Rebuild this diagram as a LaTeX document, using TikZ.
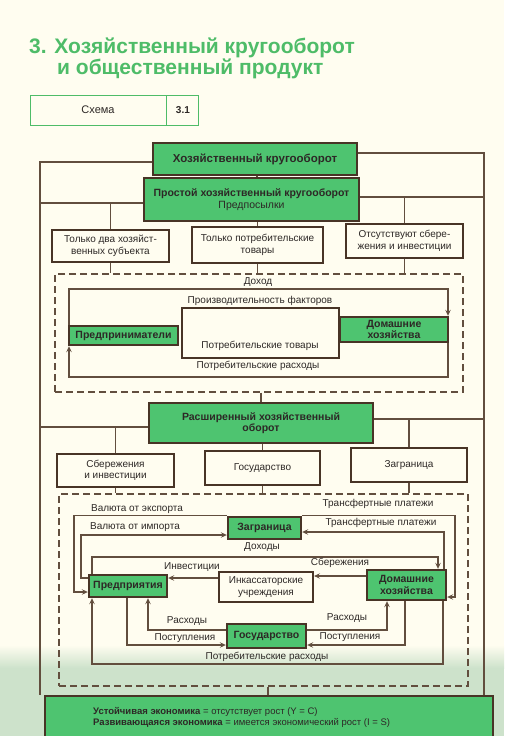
\documentclass[tikz,border=0pt]{standalone}
\usepackage{fontspec}
\setmainfont{Liberation Sans}
\usetikzlibrary{arrows.meta}
\definecolor{paper}{RGB}{255,253,240}
\definecolor{wash}{RGB}{205,226,203}
\definecolor{wire}{RGB}{98,78,62}
\definecolor{frame}{RGB}{72,52,38}
\definecolor{boxgreen}{RGB}{78,196,112}
\definecolor{titlegreen}{RGB}{78,188,104}
\definecolor{txt}{RGB}{45,40,38}

\begin{document}
\begin{tikzpicture}[x=1pt,y=-1pt]
        \tikzstyle{every node}+=[inner sep=0pt, text=txt, font=\fontsize{10}{11.5}\selectfont]
        \tikzstyle{greenbox}=[draw=frame, line width=2.4pt, fill=boxgreen, align=center, font=\fontsize{10.5}{11.5}\selectfont\bfseries]
        \tikzstyle{plainbox}=[draw=frame, line width=1.3pt, fill=paper, align=center]
        \tikzstyle{dashbox}=[draw=wire, line width=1.2pt, dash pattern=on 7pt off 4pt]
        \tikzstyle{flow}=[draw=wire, line width=1.2pt]
        \tikzstyle{arr}=[flow, -{Stealth[length=6pt,width=5.5pt,inset=2.5pt]}]
        \tikzstyle{heading}=[anchor=base west, text=titlegreen, font=\fontsize{21}{24}\selectfont\bfseries]
        % paper and the green tint at the foot
        \fill [paper] (0,0) rectangle (504,736);
        \shade [top color=paper, bottom color=wash] (0,645) rectangle (504,668);
        \fill [wash] (0,668) rectangle (504,736);
        \useasboundingbox (0,0) rectangle (504,736);
        % heading
        \node [heading] (title1) at (29,53) {3. Хозяйственный кругооборот};
        \node [heading] (title2) at (57,74) {и общественный продукт};
        \node [draw=titlegreen, line width=0.9pt, minimum width=136pt, minimum height=30pt, font=\fontsize{11}{12}\selectfont] (schema) at (98,110) {Схема};
        \node [draw=titlegreen, line width=0.9pt, minimum width=32pt, minimum height=30pt, anchor=west, font=\fontsize{10}{11}\selectfont\bfseries] (schemanum) at (schema.east) {3.1};
        % helper levels
        \coordinate (frameL) at (40,0);
        \coordinate (frameR) at (484,0);
        \coordinate (lvlTopL) at (0,162);
        \coordinate (lvlTopR) at (0,153);
        \coordinate (lvlA) at (0,203);
        \coordinate (lvlB) at (0,197);
        \coordinate (lvlC) at (0,427);
        \coordinate (lvlD) at (0,419);
        % simple circular flow
        \node [greenbox, minimum width=204pt, minimum height=32pt, font=\fontsize{11.5}{12}\selectfont\bfseries] (kg) at (255,159) {Хозяйственный кругооборот};
        \node [greenbox, minimum width=215pt, minimum height=43pt] (simple) at (251.5,199.5) {Простой хозяйственный кругооборот\\ \mdseries Предпосылки};
        \draw [flow] (kg.south -| 257,0) -- (simple.north -| 257,0);
        \node [plainbox, minimum width=117pt, minimum height=32pt] (twosubj) at (110.5,246) {Только два хозяйст-\\венных субъекта};
        \node [plainbox, minimum width=131pt, minimum height=36pt] (onlygoods) at (257.5,245) {Только потребительские\\товары};
        \node [plainbox, minimum width=117pt, minimum height=34pt] (nosaving) at (404.5,241) {Отсутствуют сбере-\\жения и инвестиции};
        \draw [flow] (simple.west |- lvlA) -- (frameL |- lvlA);
        \draw [flow] (twosubj.north) -- (twosubj.north |- lvlA);
        \draw [flow] (simple.east |- lvlB) -- (frameR |- lvlB);
        \draw [flow] (nosaving.north) -- (nosaving.north |- lvlB);
        \draw [flow] (simple.south -| onlygoods.north) -- (onlygoods.north);
        \node [dashbox, minimum width=408pt, minimum height=118pt] (simpleloop) at (259,333) {};
        \draw [flow] (twosubj.south) -- (twosubj.south |- simpleloop.north);
        \draw [flow] (onlygoods.south) -- (onlygoods.south |- simpleloop.north);
        \draw [flow] (nosaving.south) -- (nosaving.south |- simpleloop.north);
        \node [plainbox, minimum width=157pt, minimum height=50pt] (goodsflow) at (260.5,333) {};
        \node (goodslbl) at (260,346) {Потребительские товары};
        \node [greenbox, minimum width=109pt, minimum height=19pt] (entre) at (123.5,335.5) {Предприниматели};
        \node [greenbox, minimum width=108pt, minimum height=25pt] (house) at (394,329.5) {Домашние\\хозяйства};
        \coordinate (loopTL) at (69,289);
        \coordinate (loopTR) at (448,289);
        \coordinate (loopBL) at (69,377);
        \coordinate (loopBR) at (448,377);
        \draw [arr] (loopTL |- entre.north) -- (loopTL) -- (loopTR) -- (loopTR |- house.north);
        \draw [arr] (loopBR |- house.south) -- (loopBR) -- (loopBL) -- (loopBL |- entre.south);
        \node (incomelbl) at (258,282) {Доход};
        \node (factorlbl) at (260,301) {Производительность факторов};
        \node (spendlbl) at (258,366) {Потребительские расходы};
        % extended circular flow
        \node [greenbox, minimum width=224pt, minimum height=40pt] (extended) at (261,423) {Расширенный хозяйственный\\оборот};
        \draw [flow] (simpleloop.south -| extended.north) -- (extended.north);
        \draw [flow] (extended.west |- lvlC) -- (frameL |- lvlC);
        \draw [flow] (extended.east |- lvlD) -- (frameR |- lvlD);
        \node [plainbox, minimum width=117pt, minimum height=33pt] (savinv) at (115.5,470.5) {Сбережения\\и инвестиции};
        \node [plainbox, minimum width=115pt, minimum height=34pt] (state) at (262.5,468) {Государство};
        \node [plainbox, minimum width=116pt, minimum height=34pt] (abroad) at (409,465) {Заграница};
        \draw [flow] (savinv.north) -- (savinv.north |- lvlC);
        \draw [flow] (abroad.north) -- (abroad.north |- lvlD);
        \draw [flow] (extended.south -| state.north) -- (state.north);
        \node [dashbox, minimum width=409pt, minimum height=192pt] (extloop) at (263.5,590) {};
        \draw [flow] (savinv.south) -- (savinv.south |- extloop.north);
        \draw [flow] (state.south) -- (state.south |- extloop.north);
        \draw [flow] (abroad.south) -- (abroad.south |- extloop.north);
        \node [greenbox, minimum width=73pt, minimum height=22pt] (fabroad) at (264.5,528) {Заграница};
        \node [greenbox, minimum width=78pt, minimum height=22pt] (firms) at (128,586) {Предприятия};
        \node [plainbox, line width=2.2pt, minimum width=94pt, minimum height=30pt] (banks) at (266,587) {Инкассаторские\\учреждения};
        \node [greenbox, minimum width=79pt, minimum height=30pt] (homes) at (406.5,585) {Домашние\\хозяйства};
        \node [greenbox, minimum width=79pt, minimum height=24pt] (fstate) at (266.5,636) {Государство};
        \coordinate (expL) at (74,0);
        \coordinate (yExpIn) at (0,592);
        \coordinate (impL) at (81,535);
        \coordinate (yImpOut) at (0,578);
        \coordinate (trUp) at (455,0);
        \coordinate (yTrIn) at (0,597);
        \coordinate (trLow) at (444,532);
        \coordinate (incL) at (92,0);
        \coordinate (incR) at (438,557);
        \coordinate (yInv) at (0,578);
        \coordinate (ySav) at (0,576);
        \coordinate (expFirms) at (148,630);
        \coordinate (revFirms) at (127,645);
        \coordinate (expHomes) at (387,630);
        \coordinate (revHomes) at (405,645);
        \coordinate (conR) at (443,664);
        \coordinate (conL) at (92,664);
        \draw [arr] (fabroad.north west) -| (expL |- yExpIn) -- (firms.west |- yExpIn);
        \draw [arr] (firms.west |- yImpOut) -| (impL) -- (fabroad.west |- impL);
        \draw [arr] (fabroad.north east) -| (trUp |- yTrIn) -- (homes.east |- yTrIn);
        \draw [arr] (trLow |- homes.north) |- (fabroad.east |- trLow);
        \draw [arr] (firms.north -| incL) |- (incR) -- (incR |- homes.north);
        \draw [arr] (banks.west |- yInv) -- (firms.east |- yInv);
        \draw [arr] (homes.west |- ySav) -- (banks.east |- ySav);
        \draw [arr] (fstate.west |- expFirms) -| (expFirms |- firms.south);
        \draw [arr] (firms.south -| revFirms) |- (fstate.west |- revFirms);
        \draw [arr] (fstate.east |- expHomes) -| (expHomes |- homes.south);
        \draw [arr] (homes.south -| revHomes) |- (fstate.east |- revHomes);
        \draw [arr] (homes.south -| conR) -- (conR) -- (conL) -- (conL |- firms.south);
        \node (exportlbl) at (137,509) {Валюта от экспорта};
        \node (importlbl) at (135,527) {Валюта от импорта};
        \node (trlbl1) at (378,504) {Трансфертные платежи};
        \node (trlbl2) at (381,523) {Трансфертные платежи};
        \node (inclbl) at (262,547) {Доходы};
        \node (invlbl) at (192,567) {Инвестиции};
        \node (savlbl) at (340,563) {Сбережения};
        \node (explbl1) at (187,621) {Расходы};
        \node (explbl2) at (347,618) {Расходы};
        \node (revlbl1) at (185,638) {Поступления};
        \node (revlbl2) at (350,637) {Поступления};
        \node (conlbl) at (267,657) {Потребительские расходы};
        % result
        \node [greenbox, anchor=north west, minimum width=448pt, minimum height=48pt] (economy) at (44,695) {};
        \draw [flow] (extloop.south -| 268,0) -- (economy.north -| 268,0);
        \draw [flow] (kg.west |- lvlTopL) -| (frameL |- economy.north);
        \draw [flow] (kg.east |- lvlTopR) -| (frameR |- economy.north);
        \node [anchor=west, font=\fontsize{9.5}{11}\selectfont] (stable) at (93,712) {\textbf{Устойчивая экономика} = отсутствует рост (Y = C)};
        \node [anchor=west, font=\fontsize{9.5}{11}\selectfont] (growing) at (93,723) {\textbf{Развивающаяся экономика} = имеется экономический рост (I = S)};
\end{tikzpicture}
\end{document}
